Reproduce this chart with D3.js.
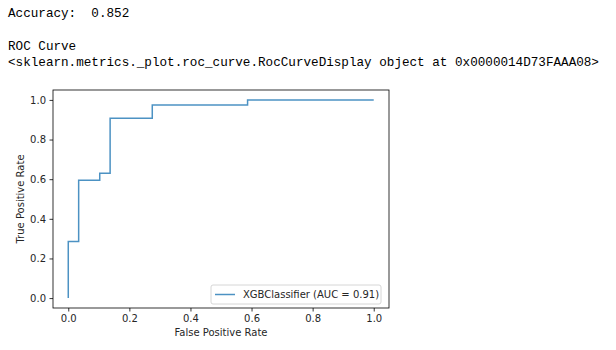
<!DOCTYPE html>
<html>
<head>
<meta charset="utf-8">
<script src="https://cdn.jsdelivr.net/npm/d3@7"></script>
<style>
  body { margin: 0; background: #fff; }
  svg { display: block; }
  text.out { white-space: pre; }
</style>
</head>
<body>
<div id="chart"></div>
<script>
// Output lines printed above the chart
const outputLines = [
  { text: "Accuracy:  0.852", y: 16.5 },
  { text: "ROC Curve", y: 50 },
  { text: "<sklearn.metrics._plot.roc_curve.RocCurveDisplay object at 0x0000014D73FAAA08>", y: 65.5 }
];

// ROC points
const fpr = [0, 0, 0.034, 0.034, 0.103, 0.103, 0.137, 0.137, 0.275, 0.275, 0.587, 0.587, 1.0];
const tpr = [0, 0.286, 0.286, 0.595, 0.595, 0.63, 0.63, 0.907, 0.907, 0.974, 0.974, 1.0, 1.0];
const seriesName = "XGBClassifier (AUC = 0.91)";
const xTicks = [0, 0.2, 0.4, 0.6, 0.8, 1.0];
const yTicks = [0, 0.2, 0.4, 0.6, 0.8, 1.0];

const W = 616, H = 350;
const margin = { top: 90, bottom: 42, left: 53, right: 227 };
const width = W - margin.left - margin.right;
const height = H - margin.top - margin.bottom;

const svg = d3.select("#chart").append("svg")
  .attr("width", W)
  .attr("height", H);

svg.selectAll("text.out")
  .data(outputLines)
  .join("text")
  .attr("class", "out")
  .attr("xml:space", "preserve")
  .attr("x", 8)
  .attr("y", d => d.y)
  .attr("font-family", "Liberation Mono, DejaVu Sans Mono, monospace")
  .attr("font-size", 12.63)
  .attr("fill", "#000")
  .text(d => d.text);

const g = svg.append("g").attr("transform", `translate(${margin.left},${margin.top})`);

// matplotlib pads 5% on each side
const xscale = d3.scaleLinear().domain([-0.05, 1.05]).range([0, width]);
const yscale = d3.scaleLinear().domain([-0.05, 1.05]).range([height, 0]);

const xAxis = d3.axisBottom(xscale).tickValues(xTicks).tickFormat(d3.format(".1f"))
  .tickSizeInner(3.5).tickSizeOuter(0).tickPadding(3.5);
const yAxis = d3.axisLeft(yscale).tickValues(yTicks).tickFormat(d3.format(".1f"))
  .tickSizeInner(3.5).tickSizeOuter(0).tickPadding(3.5);

const gx = g.append("g").attr("transform", `translate(0,${height})`).call(xAxis);
const gy = g.append("g").call(yAxis);

[gx, gy].forEach(a => {
  a.select(".domain").remove();
  a.selectAll("line").attr("stroke", "#000").attr("stroke-width", 0.8);
  a.selectAll("text")
    .attr("font-family", "DejaVu Sans, sans-serif")
    .attr("font-size", 10)
    .attr("fill", "#262626");
});

// frame
g.append("rect")
  .attr("width", width)
  .attr("height", height)
  .attr("fill", "none")
  .attr("stroke", "#000")
  .attr("stroke-width", 0.8);

const points = fpr.map((f, i) => [f, tpr[i]]);
const line = d3.line().x(d => xscale(d[0])).y(d => yscale(d[1]));

g.append("path")
  .datum(points)
  .attr("d", line)
  .attr("fill", "none")
  .attr("stroke", "#4c92c3")
  .attr("stroke-width", 1.5);

// axis labels
g.append("text")
  .attr("x", width / 2)
  .attr("y", height + 28)
  .attr("text-anchor", "middle")
  .attr("font-family", "DejaVu Sans, sans-serif")
  .attr("font-size", 10)
  .attr("fill", "#262626")
  .text("False Positive Rate");

g.append("text")
  .attr("transform", `translate(-29,${height / 2}) rotate(-90)`)
  .attr("text-anchor", "middle")
  .attr("font-family", "DejaVu Sans, sans-serif")
  .attr("font-size", 10)
  .attr("fill", "#262626")
  .text("True Positive Rate");

// legend
const legend = g.append("g").attr("transform", `translate(${width - 178},${height - 23})`);
legend.append("rect")
  .attr("width", 170)
  .attr("height", 19)
  .attr("rx", 2)
  .attr("fill", "#fff")
  .attr("fill-opacity", 0.8)
  .attr("stroke", "#ccc")
  .attr("stroke-width", 0.8);
legend.append("line")
  .attr("x1", 4).attr("x2", 24)
  .attr("y1", 9.5).attr("y2", 9.5)
  .attr("stroke", "#4c92c3")
  .attr("stroke-width", 1.5);
legend.append("text")
  .attr("x", 32)
  .attr("y", 13.2)
  .attr("font-family", "DejaVu Sans, sans-serif")
  .attr("font-size", 10)
  .attr("fill", "#262626")
  .text(seriesName);
</script>
</body>
</html>
